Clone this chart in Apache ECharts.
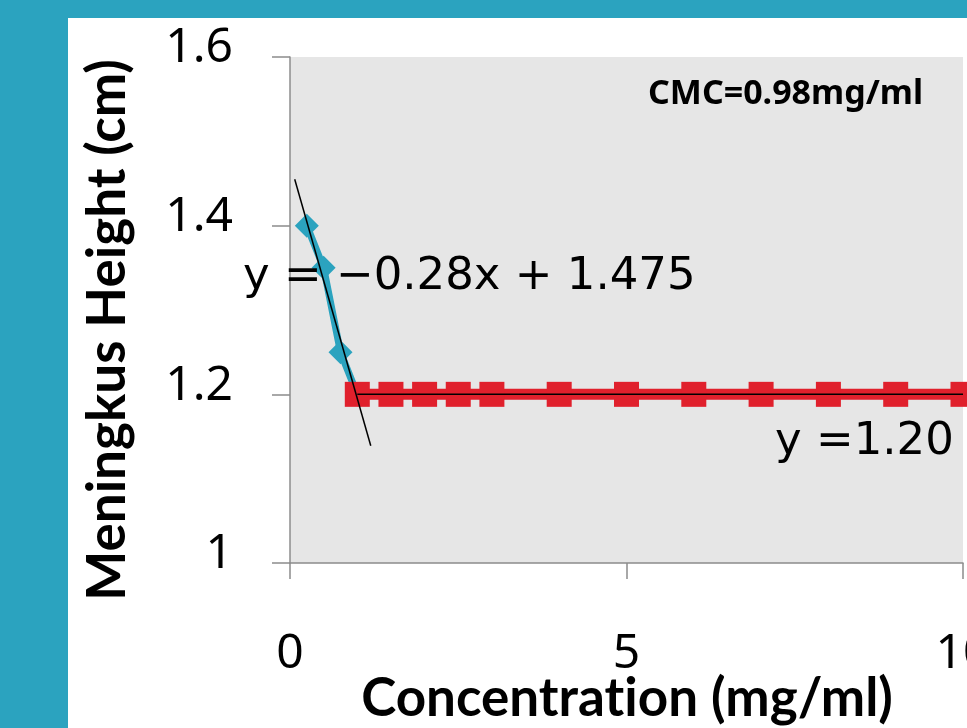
<!DOCTYPE html>
<html>
<head>
<meta charset="utf-8">
<script src="https://cdn.jsdelivr.net/npm/echarts@6/dist/echarts.min.js"></script>
<style>
html,body{margin:0;padding:0;background:#2ba3bf;}
#c{width:967px;height:728px;}
</style>
</head>
<body>
<div id="c"></div>
<script>
// Data
const belowX = [0.25, 0.5, 0.75, 1.0];
const belowY = [1.40, 1.35, 1.25, 1.20];
const aboveX = [1.0, 1.5, 2.0, 2.5, 3.0, 4, 5, 6, 7, 8, 9, 10];
const aboveY = [1.2, 1.2, 1.2, 1.2, 1.2, 1.2, 1.2, 1.2, 1.2, 1.2, 1.2, 1.2];
const fitBelowX = [0.07, 1.2];
const fitBelowY = [1.455, 1.139];
const fitAboveX = [1.0, 10];
const fitAboveY = [1.2, 1.2];
const yTicks = [1, 1.2, 1.4, 1.6];
const xTicks = [0, 5, 10];
const labels = {
  eq1: 'y = \u22120.28x + 1.475',
  eq2: 'y =1.20',
  cmc: 'CMC=0.98mg/ml',
  xNameParts: ['Concentrat', 'ion (mg/ml)'],
  yName: 'Meningkus Height (cm)'
};

const zip = (xs, ys) => xs.map((x, i) => [x, ys[i]]);
const NAMEFONT = 'Lato';
const TICKFONT = 'Noto Sans';
const EQFONT = 'DejaVu Sans';
const nameFont = 'bold 53px "' + NAMEFONT + '"';
const chart = echarts.init(document.getElementById('c'), null, {renderer: 'canvas'});
chart.setOption({
  backgroundColor: '#2ba3bf',
  animation: false,
  graphic: [
    {type: 'rect', z: -100, shape: {x: 68, y: 18, width: 1000, height: 800}, style: {fill: '#ffffff'}},
    {type: 'text', z: 100, left: 243, top: 255, style: {text: labels.eq1, font: '45px "' + EQFONT + '"', fill: '#000'}},
    {type: 'text', z: 100, left: 775, top: 420, style: {text: labels.eq2, font: '45px "' + EQFONT + '"', fill: '#000'}},
    {type: 'text', z: 100, left: 648, top: 77, style: {text: labels.cmc, font: 'bold 34px "' + TICKFONT + '"', fill: '#000'}},
    {type: 'text', z: 100, x: 108, y: 330, rotation: Math.PI / 2,
     style: {text: labels.yName, font: nameFont, fill: '#000', align: 'center', verticalAlign: 'middle'}},
    {type: 'text', z: 100, x: 627, y: 699,
     style: {text: labels.xNameParts.map(p => '{a|' + p + '}').join(''), font: nameFont, fill: '#000',
             align: 'center', verticalAlign: 'middle',
             rich: {a: {font: nameFont, fill: '#000'}}}}
  ],
  grid: {left: 290, right: 4, top: 57, bottom: 165, show: true, backgroundColor: '#e6e6e6', borderWidth: 0,
         containLabel: false, outerBoundsMode: 'none'},
  xAxis: {
    type: 'value', min: xTicks[0], max: xTicks[xTicks.length - 1], interval: 5,
    axisLine: {show: true, lineStyle: {color: '#8c8c8c', width: 1.5}},
    axisTick: {show: true, inside: false, length: 16, lineStyle: {color: '#8c8c8c', width: 1.5}},
    splitLine: {show: false},
    axisLabel: {color: '#000', fontFamily: TICKFONT, fontSize: 48, lineHeight: 48, margin: 67, showMaxLabel: true}
  },
  yAxis: {
    type: 'value', min: yTicks[0], max: yTicks[yTicks.length - 1], interval: 0.2,
    axisLine: {show: true, lineStyle: {color: '#8c8c8c', width: 1.5}},
    axisTick: {show: true, inside: false, length: 18, lineStyle: {color: '#8c8c8c', width: 1.5}},
    splitLine: {show: false},
    axisLabel: {color: '#000', fontFamily: TICKFONT, fontSize: 48, margin: 57, verticalAlign: 'bottom', lineHeight: 17}
  },
  series: [
    {type: 'line', data: zip(belowX, belowY), symbol: 'diamond', symbolSize: 24, showAllSymbol: true,
     itemStyle: {color: '#2ba3bf'}, lineStyle: {color: '#2ba3bf', width: 7}, z: 2},
    {type: 'line', data: zip(aboveX, aboveY), symbol: 'rect', symbolSize: 25, showAllSymbol: true,
     itemStyle: {color: '#e0202c'}, lineStyle: {color: '#e0202c', width: 11}, z: 3},
    {type: 'line', data: zip(fitBelowX, fitBelowY), symbol: 'none', lineStyle: {color: '#000', width: 1.5}, z: 4},
    {type: 'line', data: zip(fitAboveX, fitAboveY), symbol: 'none', lineStyle: {color: '#000', width: 1.5}, z: 4}
  ]
});
</script>
</body>
</html>
